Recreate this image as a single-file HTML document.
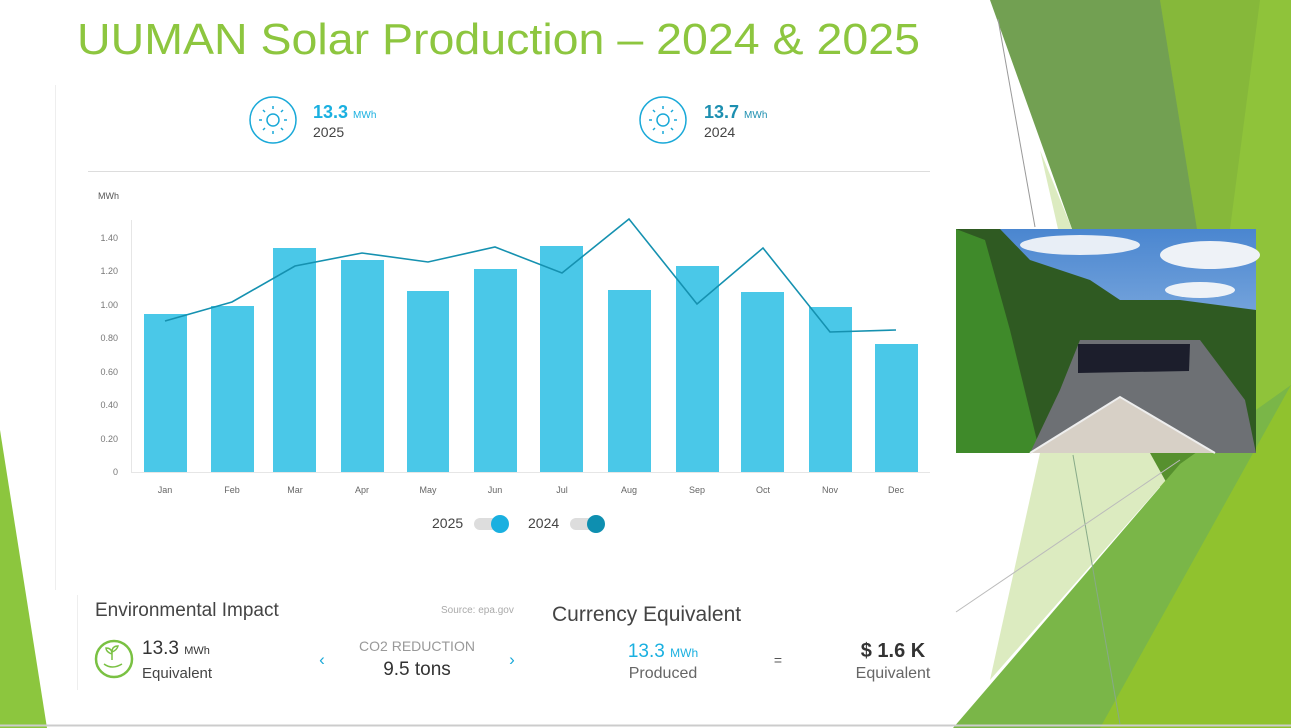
<!DOCTYPE html>
<html><head><meta charset="utf-8"><style>
html,body{margin:0;padding:0;background:#fff;}
svg{display:block;font-family:"Liberation Sans",sans-serif;}
</style></head><body>
<svg width="1291" height="728" viewBox="0 0 1291 728" xmlns="http://www.w3.org/2000/svg">
<rect width="1291" height="728" fill="#fff"/>
<!-- left bottom green -->
<polygon points="0,430 47,728 0,728" fill="#8cc63e"/>
<!-- right decorations -->
<rect x="1160" y="0" width="131" height="728" fill="#8fc33a"/>
<polygon points="1160,0 1260,0 1230,229 1197,229" fill="#86b83a"/>
<polygon points="990,0 1160,0 1197,229 1072,229" fill="#72a052"/>
<polygon points="1040,150 1072,229 1058,229" fill="#dcebc0"/>
<polygon points="1040,453 1180,453 1180,464 990,680" fill="#dcebc0"/>
<polygon points="1150,453 1200,453 1195,534" fill="#56902e"/>
<polygon points="953,728 1180,464 1291,385 1291,728" fill="#7ab648"/>
<polygon points="1100,728 1291,385 1291,728" fill="#90c22e"/>
<polyline points="998,19 1035,227" fill="none" stroke="#999" stroke-width="1"/>
<polyline points="1073,455 1120,724" fill="none" stroke="#8a8" stroke-width="1"/>
<line x1="956" y1="612" x2="1180" y2="460" stroke="#bbb" stroke-width="1"/>
<line x1="0" y1="725.5" x2="1291" y2="725.5" stroke="#ccc" stroke-width="2"/>

<!-- photo -->
<defs>
<linearGradient id="sky" x1="0" y1="0" x2="0" y2="1"><stop offset="0" stop-color="#4a86d0"/><stop offset="1" stop-color="#b9d3ee"/></linearGradient>
</defs>
<rect x="956" y="229" width="300" height="224" fill="url(#sky)"/>
<ellipse cx="1080" cy="245" rx="60" ry="10" fill="#e8eef6"/>
<ellipse cx="1210" cy="255" rx="50" ry="14" fill="#eef2f7"/>
<ellipse cx="1200" cy="290" rx="35" ry="8" fill="#eef2f7"/>
<polygon points="956,229 1000,229 1030,260 1090,280 1120,300 1180,300 1256,310 1256,453 956,453" fill="#2f5a22"/>
<polygon points="956,229 985,240 1010,330 1040,453 956,453" fill="#3f8a2a"/>
<polygon points="1080,340 1200,340 1245,400 1256,453 1030,453 1060,390" fill="#6d7074"/>
<polygon points="1078,344 1190,344 1189,371 1078,373" fill="#1c1e2c"/>
<polygon points="1030,453 1120,398 1215,453" fill="#d7d0c6"/>
<polyline points="1030,453 1120,397 1215,453" fill="none" stroke="#eee" stroke-width="2"/>

<!-- title -->
<text x="77" y="54" font-size="44" fill="#8dc63f" textLength="843" lengthAdjust="spacingAndGlyphs">UUMAN Solar Production – 2024 &amp; 2025</text>

<!-- panel lines -->
<line x1="55.5" y1="85" x2="55.5" y2="590" stroke="#eee"/>
<line x1="77.5" y1="595" x2="77.5" y2="690" stroke="#eee"/>
<line x1="88" y1="171.5" x2="930" y2="171.5" stroke="#ddd"/>

<!-- header stats -->
<g fill="none" stroke="#1aa9d8" stroke-width="1.5">
<circle cx="273" cy="120" r="23"/>
<circle cx="273" cy="120" r="6"/>
<circle cx="663" cy="120" r="23"/>
<circle cx="663" cy="120" r="6"/>
</g>
<g stroke="#1aa9d8" stroke-width="1.5">
<path d="M273 106v3M273 131v3M259 120h3M284 120h3M263 110l2 2M281 128l2 2M263 130l2-2M281 112l2-2"/>
<path d="M663 106v3M663 131v3M649 120h3M674 120h3M653 110l2 2M671 128l2 2M653 130l2-2M671 112l2-2"/>
</g>
<text x="313" y="118" font-size="18" font-weight="bold" fill="#1ab0e0">13.3 <tspan font-size="10" font-weight="normal">MWh</tspan></text>
<text x="313" y="137" font-size="14" fill="#444">2025</text>
<text x="704" y="118" font-size="18" font-weight="bold" fill="#1d8fb0">13.7 <tspan font-size="10" font-weight="normal">MWh</tspan></text>
<text x="704" y="137" font-size="14" fill="#444">2024</text>

<!-- chart -->
<text x="98" y="199" font-size="9" fill="#555">MWh</text>
<line x1="131.5" y1="220" x2="131.5" y2="472" stroke="#e6e6e6"/>
<line x1="131" y1="472.5" x2="930" y2="472.5" stroke="#e6e6e6"/>
<g font-size="9" fill="#777" text-anchor="end">
<text x="118" y="475">0</text>
<text x="118" y="442">0.20</text>
<text x="118" y="408">0.40</text>
<text x="118" y="375">0.60</text>
<text x="118" y="341">0.80</text>
<text x="118" y="308">1.00</text>
<text x="118" y="274">1.20</text>
<text x="118" y="241">1.40</text>
</g>
<g fill="#4ac8e8">
<rect x="144" y="314" width="43" height="158"/>
<rect x="211" y="306" width="43" height="166"/>
<rect x="273" y="248" width="43" height="224"/>
<rect x="341" y="260" width="43" height="212"/>
<rect x="407" y="291" width="42" height="181"/>
<rect x="474" y="269" width="43" height="203"/>
<rect x="540" y="246" width="43" height="226"/>
<rect x="608" y="290" width="43" height="182"/>
<rect x="676" y="266" width="43" height="206"/>
<rect x="741" y="292" width="43" height="180"/>
<rect x="809" y="307" width="43" height="165"/>
<rect x="875" y="344" width="43" height="128"/>
</g>
<polyline fill="none" stroke="#1591b0" stroke-width="1.6" points="165,321 232,302 295,266 362,253 428,262 495,247 562,273 629,219 697,304 763,248 830,332 896,330"/>
<g font-size="9" fill="#666" text-anchor="middle">
<text x="165" y="493">Jan</text><text x="232" y="493">Feb</text><text x="295" y="493">Mar</text>
<text x="362" y="493">Apr</text><text x="428" y="493">May</text><text x="495" y="493">Jun</text>
<text x="562" y="493">Jul</text><text x="629" y="493">Aug</text><text x="697" y="493">Sep</text>
<text x="763" y="493">Oct</text><text x="830" y="493">Nov</text><text x="896" y="493">Dec</text>
</g>
<!-- legend -->
<text x="432" y="528" font-size="14" fill="#444">2025</text>
<rect x="474" y="518" width="32" height="12" rx="6" fill="#ddd"/>
<circle cx="500" cy="524" r="9" fill="#1ab0e0"/>
<text x="528" y="528" font-size="14" fill="#444">2024</text>
<rect x="570" y="518" width="32" height="12" rx="6" fill="#ddd"/>
<circle cx="596" cy="524" r="9" fill="#0e8fb0"/>

<!-- bottom -->
<text x="95" y="616" font-size="19" fill="#444">Environmental Impact</text>
<text x="441" y="613" font-size="10" fill="#aaa">Source: epa.gov</text>
<text x="552" y="621" font-size="21" fill="#444">Currency Equivalent</text>
<circle cx="114" cy="659" r="18" fill="none" stroke="#7ac143" stroke-width="2.5"/>
<path d="M104 664 q8 6 18 0 M112 660 v-10 M112 654 q-6 -2 -6 -6 q6 0 6 6 M112 652 q5 -2 6 -6 q-6 0 -6 6" fill="none" stroke="#7ac143" stroke-width="1.5"/>
<text x="142" y="654" font-size="19" fill="#333">13.3 <tspan font-size="11">MWh</tspan></text>
<text x="142" y="678" font-size="15" fill="#444">Equivalent</text>
<text x="322" y="665" font-size="17" fill="#1aa9d8" text-anchor="middle">‹</text>
<text x="512" y="665" font-size="17" fill="#1aa9d8" text-anchor="middle">›</text>
<text x="417" y="651" font-size="14" fill="#999" text-anchor="middle">CO2 REDUCTION</text>
<text x="417" y="675" font-size="19" fill="#333" text-anchor="middle">9.5 tons</text>
<text x="663" y="657" font-size="19" fill="#1ab0e0" text-anchor="middle">13.3 <tspan font-size="12">MWh</tspan></text>
<text x="663" y="678" font-size="16" fill="#666" text-anchor="middle">Produced</text>
<text x="778" y="665" font-size="14" fill="#555" text-anchor="middle">=</text>
<text x="893" y="657" font-size="20" font-weight="bold" fill="#333" text-anchor="middle">$ 1.6 K</text>
<text x="893" y="678" font-size="16" fill="#666" text-anchor="middle">Equivalent</text>
</svg>
</body></html>
